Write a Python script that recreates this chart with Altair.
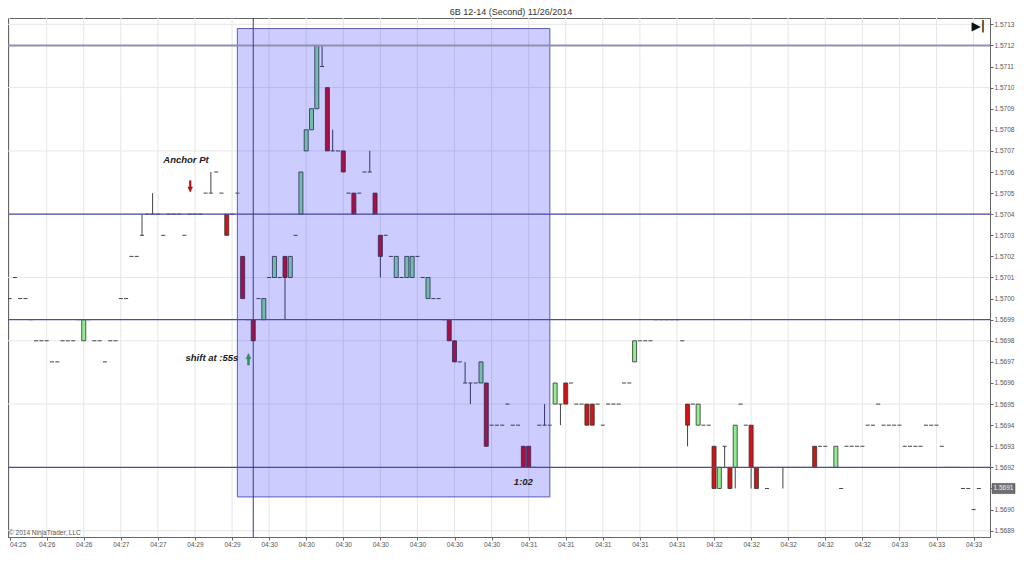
import altair as alt
import pandas as pd

TITLE = "6B 12-14 (Second)  11/26/2014"

# prices in ticks (x 0.0001)
bar_open = [
    15700, 15701, 15700, 15700, 15699, 15698, 15698, 15698, 15697, 15697,
    15698, 15698, 15698, 15699, 15698, 15699, 15698, 15698, 15697, 15698,
    15698, 15700, 15700, 15702, 15702, 15703, 15704, 15704, 15704, 15703,
    15704, 15704, 15704, 15703, 15704, 15704, 15704, 15705, 15705, 15706,
    15705, 15704, 15704, 15705, 15702, 15699, 15699, 15700, 15699, 15701,
    15701, 15701, 15702, 15701, 15703, 15704, 15707, 15708, 15709, 15711,
    15710, 15707, 15707, 15707, 15705, 15705, 15705, 15706, 15706, 15705,
    15703, 15703, 15702, 15701, 15701, 15701, 15701, 15702, 15701, 15700,
    15700, 15700, 15699, 15699, 15698, 15697, 15696, 15696, 15696, 15696,
    15696, 15694, 15694, 15694, 15695, 15694, 15694, 15693, 15693, 15692,
    15694, 15694, 15694, 15695, 15695, 15696, 15696, 15695, 15695, 15695,
    15695, 15695, 15694, 15695, 15695, 15695, 15696, 15696, 15697, 15698,
    15698, 15698, 15699, 15699, 15699, 15699, 15699, 15698, 15695, 15695,
    15694, 15694, 15694, 15693, 15691, 15693, 15692, 15692, 15695, 15694,
    15694, 15692, 15692, 15691, 15692, 15692, 15692, 15692, 15692, 15692,
    15692, 15692, 15693, 15693, 15693, 15692, 15692, 15691, 15693, 15693,
    15693, 15693, 15694, 15694, 15695, 15694, 15694, 15694, 15694, 15693,
    15693, 15693, 15693, 15694, 15694, 15694, 15693, 15692, 15692, 15692,
    15691, 15691, 15690, 15691,
]
bar_high = [
    15700, 15701, 15700, 15700, 15699, 15698, 15698, 15698, 15697, 15697,
    15698, 15698, 15698, 15699, 15699, 15699, 15698, 15698, 15697, 15698,
    15698, 15700, 15700, 15702, 15702, 15704, 15704, 15705, 15704, 15703,
    15704, 15704, 15704, 15703, 15704, 15704, 15704, 15705, 15706, 15706,
    15705, 15704, 15704, 15705, 15702, 15699, 15699, 15700, 15700, 15701,
    15702, 15701, 15702, 15702, 15703, 15706, 15708, 15709, 15712, 15712,
    15710, 15708, 15707, 15707, 15705, 15705, 15705, 15706, 15707, 15705,
    15703, 15703, 15702, 15702, 15701, 15702, 15702, 15702, 15701, 15701,
    15700, 15700, 15699, 15699, 15698, 15697, 15697, 15696, 15696, 15697,
    15696, 15694, 15694, 15694, 15695, 15694, 15694, 15693, 15693, 15692,
    15694, 15695, 15694, 15696, 15695, 15696, 15696, 15695, 15695, 15695,
    15695, 15695, 15694, 15695, 15695, 15695, 15696, 15696, 15698, 15698,
    15698, 15698, 15699, 15699, 15699, 15699, 15699, 15698, 15695, 15695,
    15695, 15694, 15694, 15693, 15692, 15693, 15692, 15694, 15695, 15694,
    15694, 15692, 15692, 15691, 15692, 15692, 15692, 15692, 15692, 15692,
    15692, 15692, 15693, 15693, 15693, 15692, 15693, 15691, 15693, 15693,
    15693, 15693, 15694, 15694, 15695, 15694, 15694, 15694, 15694, 15693,
    15693, 15693, 15693, 15694, 15694, 15694, 15693, 15692, 15692, 15692,
    15691, 15691, 15690, 15691,
]
bar_low = [
    15700, 15701, 15700, 15700, 15699, 15698, 15698, 15698, 15697, 15697,
    15698, 15698, 15698, 15699, 15698, 15699, 15698, 15698, 15697, 15698,
    15698, 15700, 15700, 15702, 15702, 15703, 15704, 15704, 15704, 15703,
    15704, 15704, 15704, 15703, 15704, 15704, 15704, 15705, 15705, 15706,
    15705, 15703, 15704, 15705, 15700, 15699, 15698, 15700, 15699, 15701,
    15701, 15701, 15699, 15701, 15703, 15704, 15707, 15708, 15709, 15711,
    15707, 15707, 15707, 15706, 15705, 15704, 15705, 15706, 15706, 15704,
    15701, 15703, 15702, 15701, 15701, 15701, 15701, 15702, 15701, 15700,
    15700, 15700, 15699, 15698, 15697, 15697, 15696, 15695, 15696, 15696,
    15693, 15694, 15694, 15694, 15695, 15694, 15694, 15692, 15692, 15692,
    15694, 15694, 15694, 15695, 15694, 15695, 15696, 15695, 15695, 15694,
    15694, 15695, 15694, 15695, 15695, 15695, 15696, 15696, 15697, 15698,
    15698, 15698, 15699, 15699, 15699, 15699, 15699, 15698, 15693, 15695,
    15694, 15694, 15694, 15691, 15691, 15692, 15691, 15691, 15695, 15694,
    15691, 15691, 15692, 15691, 15692, 15692, 15691, 15692, 15692, 15692,
    15692, 15692, 15692, 15693, 15693, 15692, 15692, 15691, 15693, 15693,
    15693, 15693, 15694, 15694, 15695, 15694, 15694, 15694, 15694, 15693,
    15693, 15693, 15693, 15694, 15694, 15694, 15693, 15692, 15692, 15692,
    15691, 15691, 15690, 15691,
]
bar_close = [
    15700, 15701, 15700, 15700, 15699, 15698, 15698, 15698, 15697, 15697,
    15698, 15698, 15698, 15699, 15699, 15699, 15698, 15698, 15697, 15698,
    15698, 15700, 15700, 15702, 15702, 15703, 15704, 15704, 15704, 15703,
    15704, 15704, 15704, 15703, 15704, 15704, 15704, 15705, 15705, 15706,
    15705, 15703, 15704, 15705, 15700, 15699, 15698, 15700, 15700, 15701,
    15702, 15701, 15701, 15702, 15703, 15706, 15708, 15709, 15712, 15711,
    15707, 15707, 15707, 15706, 15705, 15704, 15705, 15706, 15706, 15704,
    15702, 15703, 15702, 15702, 15701, 15702, 15702, 15702, 15701, 15701,
    15700, 15700, 15699, 15698, 15697, 15697, 15696, 15696, 15696, 15697,
    15693, 15694, 15694, 15694, 15695, 15694, 15694, 15692, 15692, 15692,
    15694, 15694, 15694, 15696, 15695, 15695, 15696, 15695, 15695, 15694,
    15694, 15695, 15694, 15695, 15695, 15695, 15696, 15696, 15698, 15698,
    15698, 15698, 15699, 15699, 15699, 15699, 15699, 15698, 15694, 15695,
    15695, 15694, 15694, 15691, 15692, 15693, 15691, 15694, 15695, 15694,
    15692, 15691, 15692, 15691, 15692, 15692, 15692, 15692, 15692, 15692,
    15692, 15692, 15692, 15693, 15693, 15692, 15693, 15691, 15693, 15693,
    15693, 15693, 15694, 15694, 15695, 15694, 15694, 15694, 15694, 15693,
    15693, 15693, 15693, 15694, 15694, 15694, 15693, 15692, 15692, 15692,
    15691, 15691, 15690, 15691,
]

tick_labels = ["04:25", "04:26", "04:26", "04:27", "04:27", "04:29", "04:29",
               "04:30", "04:30", "04:30", "04:30", "04:30", "04:30", "04:30",
               "04:31", "04:31", "04:31", "04:31", "04:31",
               "04:32", "04:32", "04:32", "04:32", "04:32",
               "04:33", "04:33", "04:33"]
bars_per_tick = 7

price_ticks = list(range(15689, 15714))
grid_prices = list(range(15689, 15714, 3))
level_lines = [15704, 15699, 15692]
top_level = [15712]

zone_bars = [43.0, 102.0]
zone_prices = [1.56906, 1.57128]
marker_bar = [46.0]

ann_text = ["Anchor Pt", "shift at :55s", "1:02"]
ann_bar = [33.3, 38.2, 97.0]
ann_price = [1.570655, 1.569717, 1.569129]

down_arrow_bar = [34.1]
down_arrow_price = [1.570532]
up_arrow_bar = [45.1]
up_arrow_price = [1.569712]

end_icon_bar = [182.9]
end_icon_price = [1.571292]

last_price = 1.5691

W, H = 982, 519
X_DOM = [-0.3, 185.1]
Y_DOM = [1.56887, 1.57133]

xs = alt.Scale(domain=X_DOM, nice=False, zero=False)
ys = alt.Scale(domain=Y_DOM, nice=False, zero=False)

n = len(bar_open)
bars = pd.DataFrame({
    "i": list(range(n)),
    "open": [v / 10000 for v in bar_open],
    "high": [v / 10000 for v in bar_high],
    "low": [v / 10000 for v in bar_low],
    "close": [v / 10000 for v in bar_close],
})
bars["dir"] = ["up" if c > o else ("down" if c < o else "flat")
               for o, c in zip(bar_open, bar_close)]

tick_vals = [k * bars_per_tick for k in range(len(tick_labels))]
label_expr = "[" + ",".join("'%s'" % s for s in tick_labels) + "][round(datum.value/%d)]" % bars_per_tick

base = alt.Chart(bars).transform_calculate(
    x0="datum.i - 0.38", x1="datum.i + 0.38"
)

x_axis = alt.Axis(values=tick_vals, labelExpr=label_expr, grid=False, title=None,
                  tickSize=3, labelFontSize=6.5, labelColor="#555", tickColor="#666",
                  domainColor="#666", labelPadding=1, labelFlush=5, labelOverlap=False)
y_axis = alt.Axis(orient="right", values=[p / 10000 for p in price_ticks], format=".4f",
                  grid=False, title=None, tickSize=3, labelFontSize=6.5,
                  labelColor="#555", tickColor="#666", domainColor="#666", labelPadding=1,
                  labelOverlap=False)

NX = dict(scale=xs, axis=x_axis, title=None)
NY = dict(scale=ys, axis=y_axis, title=None)

gx = alt.Chart(pd.DataFrame({"t": tick_vals})).mark_rule(color="#e6e6e6", strokeWidth=1).encode(
    x=alt.X("t:Q", **NX))
gy = alt.Chart(pd.DataFrame({"p": [p / 10000 for p in grid_prices]})).mark_rule(
    color="#e6e6e6", strokeWidth=1).encode(y=alt.Y("p:Q", **NY))

wicks = base.transform_filter("datum.high > datum.low").mark_rule(
    color="#444", strokeWidth=1).encode(
    x=alt.X("i:Q", **NX), y=alt.Y("low:Q", **NY), y2="high:Q")

bodies = base.transform_filter("datum.open != datum.close").mark_rect(
    stroke="#333", strokeWidth=0.8).encode(
    x=alt.X("x0:Q", **NX), x2="x1:Q",
    y=alt.Y("open:Q", **NY), y2="close:Q",
    color=alt.Color("dir:N", scale=alt.Scale(domain=["up", "down"],
                                             range=["#90ee90", "#d21414"]), legend=None))

dojis = base.transform_filter("datum.open == datum.close").mark_rule(
    color="#444", strokeWidth=1).encode(
    x=alt.X("x0:Q", **NX), x2="x1:Q", y=alt.Y("close:Q", **NY))

zone = alt.Chart(pd.DataFrame({"a": [zone_bars[0]], "b": [zone_bars[1]],
                               "lo": [zone_prices[0]], "hi": [zone_prices[1]]})).mark_rect(
    fill="#0000ff", fillOpacity=0.2, stroke="#5d5db0", strokeWidth=1).encode(
    x=alt.X("a:Q", **NX), x2="b:Q", y=alt.Y("lo:Q", **NY), y2="hi:Q")

hl_top = alt.Chart(pd.DataFrame({"p": [p / 10000 for p in top_level]})).mark_rule(
    color="#8f8fb4", strokeWidth=2).encode(y=alt.Y("p:Q", **NY))
hl = alt.Chart(pd.DataFrame({"p": [p / 10000 for p in level_lines]})).mark_rule(
    color="#4b4ba5", strokeWidth=1.2).encode(y=alt.Y("p:Q", **NY))
vl = alt.Chart(pd.DataFrame({"t": marker_bar})).mark_rule(
    color="#3a3a85", strokeWidth=1).encode(x=alt.X("t:Q", **NX))

ann = alt.Chart(pd.DataFrame({"t": ann_text, "x": ann_bar, "y": ann_price})).mark_text(
    font="Liberation Sans", fontSize=9.5, fontStyle="italic", fontWeight="bold",
    color="#222", baseline="middle", align="center").encode(
    x=alt.X("x:Q", **NX), y=alt.Y("y:Q", **NY), text="t:N")

down_arrow = alt.Chart(pd.DataFrame({"x": down_arrow_bar, "y": down_arrow_price})).mark_point(
    shape="arrow", filled=True, size=130, angle=180, color="#c41010",
    stroke="#7a0000", strokeWidth=0.5, opacity=1).encode(
    x=alt.X("x:Q", **NX), y=alt.Y("y:Q", **NY))
up_arrow = alt.Chart(pd.DataFrame({"x": up_arrow_bar, "y": up_arrow_price})).mark_point(
    shape="arrow", filled=True, size=130, color="#2f9a5a",
    stroke="#1c5c36", strokeWidth=0.5, opacity=1).encode(
    x=alt.X("x:Q", **NX), y=alt.Y("y:Q", **NY))

end_icon = alt.Chart(pd.DataFrame({"x": end_icon_bar, "y": end_icon_price})).mark_text(
    text="▶|", font="DejaVu Sans", fontSize=12, fontWeight="bold", color="#111",
    baseline="middle", align="center").encode(
    x=alt.X("x:Q", **NX), y=alt.Y("y:Q", **NY))

copyright = alt.Chart(pd.DataFrame({"t": ["© 2014 NinjaTrader, LLC"]})).mark_text(
    font="Liberation Sans", fontSize=6.5, color="#555", align="left", baseline="bottom").encode(
    x=alt.value(1), y=alt.value(H - 1), text="t:N")

lp = pd.DataFrame({"p": [last_price], "t": ["%.4f" % last_price]})
lp_box = alt.Chart(lp).transform_calculate(
    lo="datum.p - 0.000024", hi="datum.p + 0.000024").mark_rect(
    color="#6f6f6f", stroke="#444", strokeWidth=0.5).encode(
    x=alt.value(W + 2), x2=alt.value(W + 25),
    y=alt.Y("lo:Q", **NY), y2="hi:Q")
lp_text = alt.Chart(lp).mark_text(
    font="Liberation Sans", fontSize=6.5, color="#f2f2f2", align="center", baseline="middle").encode(
    x=alt.value(W + 13.5), y=alt.Y("p:Q", **NY), text="t:N")

chart = alt.layer(
    gx, gy, wicks, bodies, dojis, zone, hl_top, hl, vl,
    ann, down_arrow, up_arrow, end_icon, copyright, lp_box, lp_text
).properties(
    width=W, height=H,
    title=alt.TitleParams(TITLE, fontSize=9, fontWeight="normal", color="#333",
                          font="Liberation Sans", offset=1, anchor="middle", dx=12),
    padding={"left": 0, "top": 10, "right": 26, "bottom": 11},
    autosize=alt.AutoSizeParams(type="none"),
).configure_view(stroke="#666", strokeWidth=1).configure_axis(
    labelFont="Liberation Sans", labelOverlap=False)

chart.save("out.html", embed_options={"renderer": "svg", "actions": False})
